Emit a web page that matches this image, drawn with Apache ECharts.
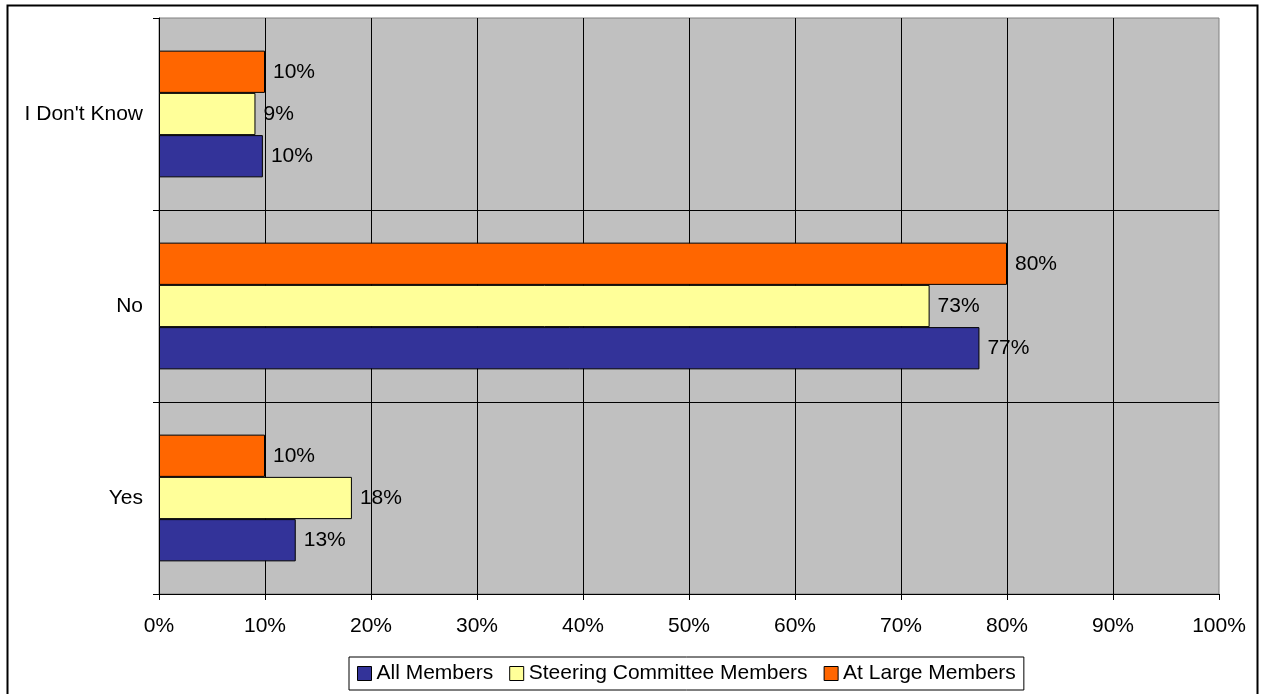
<!DOCTYPE html>
<html>
<head>
<meta charset="utf-8">
<title>Survey responses</title>
<script src="https://cdn.jsdelivr.net/npm/echarts@6/dist/echarts.min.js"></script>
<style>
  html, body { margin: 0; padding: 0; background: #ffffff; }
  #chart { width: 1262px; height: 694px; }
</style>
</head>
<body>
<div id="chart"></div>
<script>
// categories listed bottom to top, as the value axis draws them
const categories = ['Yes', 'No', "I Don't Know"]
const seriesNames = ['All Members', 'Steering Committee Members', 'At Large Members']
const allMembers = [12.9, 77.4, 9.8]
const steeringMembers = [18.2, 72.7, 9.1]
const atLargeMembers = [10, 80, 10]
const tickValues = [0, 10, 20, 30, 40, 50, 60, 70, 80, 90, 100]

const colors = ['#333399', '#FFFF99', '#FF6600']
const fontFamily = '"Liberation Sans", Arial, sans-serif'

const chart = echarts.init(document.getElementById('chart'), null, { renderer: 'canvas' })

function makeSeries(name, values, color) {
  return {
    name,
    type: 'bar',
    data: values,
    barGap: '0%',
    barCategoryGap: '34%',
    itemStyle: {
      color,
      borderColor: '#000000',
      borderWidth: 1,
    },
    label: {
      show: true,
      position: 'right',
      distance: 8,
      color: '#000000',
      fontFamily,
      fontSize: 21,
      formatter: (p) => Math.round(p.value) + '%',
    },
    emphasis: { disabled: true },
  }
}

chart.setOption({
  animation: false,
  graphic: [
    {
      type: 'rect',
      shape: { x: 7.5, y: 5.5, width: 1250, height: 700 },
      style: { fill: 'none', stroke: '#000000', lineWidth: 2 },
      z: 100,
    },
  ],
  grid: {
    left: 159,
    right: 43,
    top: 18,
    bottom: 100,
    show: true,
    backgroundColor: '#C0C0C0',
    borderColor: '#808080',
    borderWidth: 1,
  },
  legend: {
    data: seriesNames,
    left: 349,
    top: 657,
    icon: 'rect',
    itemWidth: 14,
    itemHeight: 14,
    itemGap: 16,
    padding: [6, 8, 6, 8],
    borderColor: '#000000',
    borderWidth: 1,
    backgroundColor: '#ffffff',
    itemStyle: { borderColor: '#000000', borderWidth: 1 },
    textStyle: { fontFamily, fontSize: 21, color: '#000000' },
  },
  xAxis: {
    type: 'value',
    min: tickValues[0],
    max: tickValues[tickValues.length - 1],
    interval: 10,
    axisLine: { show: true, lineStyle: { color: '#000000', width: 1 } },
    axisTick: { show: true, length: 6, lineStyle: { color: '#000000' } },
    axisLabel: {
      margin: 22,
      color: '#000000',
      fontFamily,
      fontSize: 21,
      formatter: (v) => v + '%',
    },
    splitLine: { show: true, showMaxLine: false, lineStyle: { color: '#000000', width: 1 } },
  },
  yAxis: {
    type: 'category',
    data: categories,
    axisLine: { show: true, lineStyle: { color: '#000000', width: 1 } },
    axisTick: { show: true, length: 6, lineStyle: { color: '#000000' } },
    axisLabel: {
      margin: 16,
      color: '#000000',
      fontFamily,
      fontSize: 21,
    },
    splitLine: {
      show: true,
      showMaxLine: false,
      lineStyle: { color: '#000000', width: 1 },
    },
  },
  // series listed top to bottom within each band, so At Large comes first
  series: [
    makeSeries(seriesNames[2], atLargeMembers, colors[2]),
    makeSeries(seriesNames[1], steeringMembers, colors[1]),
    makeSeries(seriesNames[0], allMembers, colors[0]),
  ],
})
</script>
</body>
</html>
